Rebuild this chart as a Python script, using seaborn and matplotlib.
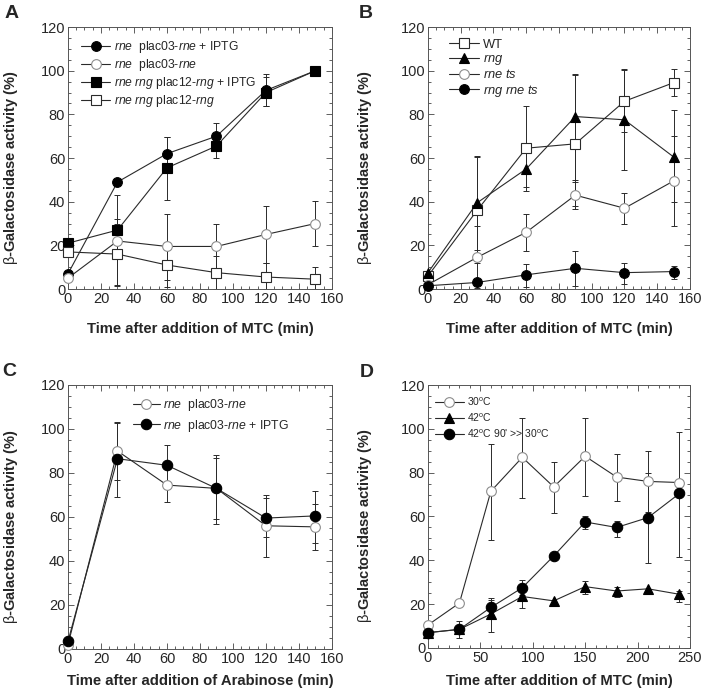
import numpy as np
import matplotlib
matplotlib.use("Agg")
import matplotlib.pyplot as plt
from matplotlib.ticker import MultipleLocator
import seaborn as sns

nan = np.nan

# Panel A
A_time = [0, 30, 60, 90, 120, 150]
A_rne_iptg = [7, 49, 62, 70, 91, 100]
A_rne_iptg_lo = [nan, nan, 55, 65, 84, nan]
A_rne_iptg_hi = [nan, nan, 69.5, 76, 98.5, nan]
A_rne = [5, 22, 19.5, 19.5, 25, 30]
A_rne_lo = [nan, 2, 4, 9, 12, 19.5]
A_rne_hi = [nan, 43, 34.5, 30, 38, 40.5]
A_rng_iptg = [21, 27, 55.5, 65.5, 90, 100]
A_rng_iptg_lo = [nan, 22, 41, 60, 84, nan]
A_rng_iptg_hi = [nan, 32, 69.5, 70, 97, nan]
A_rng = [17, 16, 11, 7.5, 5.5, 4.5]
A_rng_lo = [nan, 1.5, 1, 0, 0, 0]
A_rng_hi = [nan, 30, 19, 15, 12, 10]

# Panel B
B_time = [0, 30, 60, 90, 120, 150]
B_wt = [6, 36, 64.5, 66.5, 86, 94.5]
B_wt_lo = [nan, 12, 45, 36.5, 72, 88.3]
B_wt_hi = [nan, 60.4, 84, 98.7, 101, 101]
B_rng = [7.5, 39.5, 55, 79, 77.5, 60.5]
B_rng_lo = [nan, 18, 46.9, 50, 54.3, 39.7]
B_rng_hi = [nan, 61, 63, 98, 100.5, 81.8]
B_rnets = [2, 14.5, 26, 43, 37, 49.5]
B_rnets_lo = [nan, 0.6, 17.5, 38, 30, 29]
B_rnets_hi = [nan, 29, 34.5, 49, 43.8, 70]
B_rngrne = [1.5, 3, 6.5, 9.5, 7.5, 8]
B_rngrne_lo = [nan, nan, 1, 1.4, 2.3, 4.6]
B_rngrne_hi = [nan, nan, 11.5, 17.5, 12.1, 10.6]

# Panel C
C_time = [0, 30, 60, 90, 120, 150]
C_rne = [2, 90, 74.5, 73, 56, 55.5]
C_rne_lo = [nan, 77, 67, 57, 42, 45]
C_rne_hi = [nan, 103, 82, 87, 70, 66]
C_rne_iptg = [3.5, 86.5, 83.5, 73, 59.5, 60.5]
C_rne_iptg_lo = [nan, 69, 74, 59, 51, 48]
C_rne_iptg_hi = [nan, 102.5, 92.6, 88, 68.5, 72]

# Panel D
D_time = [0, 30, 60, 90, 120, 150, 180, 210, 240]
D_30 = [10.5, 20.5, 71.5, 87, 73.5, 87.5, 78, 76, 75.5]
D_30_lo = [nan, nan, 49.3, 68.3, 61.4, 69.5, 67.2, 62, nan]
D_30_hi = [nan, nan, 93.1, 104.8, 85, 104.8, 88.4, 90, nan]
D_42 = [7, 8.5, 15.5, 23.5, 21.5, 28, 26, 27, 24.5]
D_42_lo = [nan, nan, 7.4, 18.1, nan, 24.6, 23.1, nan, 21.1]
D_42_hi = [nan, nan, 22, 28, nan, 30.7, 27.7, nan, 26.1]
D_shift = [7, 8.5, 18.5, 27.5, 42, 57.5, 55, 59.5, 70.5]
D_shift_lo = [nan, 4.4, 14, 24, nan, 54.2, 50.8, 39, 41.4]
D_shift_hi = [nan, 12.5, 22.7, 31, nan, 60.2, 58.1, 80, 98.4]

sns.set_style("ticks")
plt.rcParams['font.family'] = ['Liberation Sans', 'DejaVu Sans']
plt.rcParams['mathtext.fontset'] = 'custom'
plt.rcParams['mathtext.rm'] = 'Liberation Sans'
plt.rcParams['mathtext.it'] = 'Liberation Sans:italic'
plt.rcParams['mathtext.bf'] = 'Liberation Sans:bold'

LINE = '#2a2a2a'
GREY = '#8c8c8c'


def draw_series(ax, x, y, lo, hi, marker, face, edge, size, label):
    """ Draws one series with its error bars. """
    x = np.array(x, dtype=float)
    y = np.array(y, dtype=float)
    lo = np.array(lo, dtype=float)
    hi = np.array(hi, dtype=float)
    ok = ~np.isnan(lo)
    ax.errorbar(x[ok], y[ok], yerr=[y[ok] - lo[ok], hi[ok] - y[ok]],
                fmt='none', ecolor=LINE, elinewidth=0.7, capsize=2,
                capthick=0.7, zorder=1)
    sns.lineplot(x=x, y=y, ax=ax, color=LINE, linewidth=0.8,
                 marker=marker, markersize=size, markerfacecolor=face,
                 markeredgecolor=edge, markeredgewidth=0.8,
                 label=label, clip_on=False, zorder=3)


def style_axes(ax, xmax, xmajor, xminor, xlabel, xlab_y, ylab_x):
    """ Frame, ticks and labels of one panel. """
    ax.set_xlim(0, xmax)
    ax.set_ylim(0, 120)
    ax.xaxis.set_major_locator(MultipleLocator(xmajor))
    ax.xaxis.set_minor_locator(MultipleLocator(xminor))
    ax.yaxis.set_major_locator(MultipleLocator(20))
    ax.yaxis.set_minor_locator(MultipleLocator(5))
    ax.tick_params(which='both', direction='in', top=True, right=True,
                   color='#444444', width=0.6, labelsize=10.5, pad=2)
    ax.tick_params(which='major', length=4)
    ax.tick_params(which='minor', length=2)
    for sp in ax.spines.values():
        sp.set_visible(True)
        sp.set_color('#555555')
        sp.set_linewidth(0.7)
    ax.set_xlabel(xlabel, fontsize=10.7, fontweight='bold')
    ax.set_ylabel(r"$\mathrm{\beta}$-Galactosidase activity (%)",
                  fontsize=10.5, fontweight='bold')
    ax.xaxis.set_label_coords(0.5, xlab_y)
    ax.yaxis.set_label_coords(ylab_x, 0.465)


fig = plt.figure(figsize=(7.06, 7.00), dpi=100)
axA = fig.add_axes([0.0963, 0.5871, 0.3739, 0.3743])
axB = fig.add_axes([0.6062, 0.5871, 0.3711, 0.3743])
axC = fig.add_axes([0.0963, 0.0729, 0.3739, 0.3771])
axD = fig.add_axes([0.6062, 0.0743, 0.3711, 0.3757])

# A
draw_series(axA, A_time, A_rne_iptg, A_rne_iptg_lo, A_rne_iptg_hi,
            'o', 'black', 'black', 7,
            r"$\it{rne}$  plac03-$\it{rne}$ + IPTG")
draw_series(axA, A_time, A_rne, A_rne_lo, A_rne_hi,
            'o', 'white', GREY, 7, r"$\it{rne}$  plac03-$\it{rne}$")
draw_series(axA, A_time, A_rng_iptg, A_rng_iptg_lo, A_rng_iptg_hi,
            's', 'black', 'black', 6.5,
            r"$\it{rne\ rng}$ plac12-$\it{rng}$ + IPTG")
draw_series(axA, A_time, A_rng, A_rng_lo, A_rng_hi,
            's', 'white', LINE, 6.5, r"$\it{rne\ rng}$ plac12-$\it{rng}$")
style_axes(axA, 160, 20, 5, "Time after addition of MTC (min)",
           -0.125, -0.18)
axA.legend(loc='upper left', bbox_to_anchor=(0.05, 0.955), frameon=False,
           fontsize=8.7, handlelength=2.4, handletextpad=0.3,
           labelspacing=0.18, borderpad=0, borderaxespad=0)

# B
draw_series(axB, B_time, B_wt, B_wt_lo, B_wt_hi,
            's', 'white', LINE, 6.5, "WT")
draw_series(axB, B_time, B_rng, B_rng_lo, B_rng_hi,
            '^', 'black', 'black', 7, r"$\it{rng}$")
draw_series(axB, B_time, B_rnets, B_rnets_lo, B_rnets_hi,
            'o', 'white', GREY, 7, r"$\it{rne\ ts}$")
draw_series(axB, B_time, B_rngrne, B_rngrne_lo, B_rngrne_hi,
            'o', 'black', 'black', 7, r"$\it{rng\ rne\ ts}$")
style_axes(axB, 160, 20, 5, "Time after addition of MTC (min)",
           -0.125, -0.205)
axB.legend(loc='upper left', bbox_to_anchor=(0.08, 0.955), frameon=False,
           fontsize=9.3, handlelength=2.3, handletextpad=0.3,
           labelspacing=0.1, borderpad=0, borderaxespad=0)

# C
draw_series(axC, C_time, C_rne, C_rne_lo, C_rne_hi,
            'o', 'white', GREY, 7, r"$\it{rne}$  plac03-$\it{rne}$")
draw_series(axC, C_time, C_rne_iptg, C_rne_iptg_lo, C_rne_iptg_hi,
            'o', 'black', 'black', 7.5,
            r"$\it{rne}$  plac03-$\it{rne}$ + IPTG")
style_axes(axC, 160, 20, 5, "Time after addition of Arabinose (min)",
           -0.094, -0.18)
axC.legend(loc='upper left', bbox_to_anchor=(0.245, 0.955), frameon=False,
           fontsize=8.8, handlelength=2.2, handletextpad=0.3,
           labelspacing=0.4, borderpad=0, borderaxespad=0)

# D
draw_series(axD, D_time, D_30, D_30_lo, D_30_hi,
            'o', 'white', GREY, 7, r"30$^{\rm o}$C")
draw_series(axD, D_time, D_42, D_42_lo, D_42_hi,
            '^', 'black', 'black', 7, r"42$^{\rm o}$C")
draw_series(axD, D_time, D_shift, D_shift_lo, D_shift_hi,
            'o', 'black', 'black', 7.5,
            r"42$^{\rm o}$C 90' >> 30$^{\rm o}$C")
style_axes(axD, 250, 50, 10, "Time after addition of MTC (min)",
           -0.097, -0.205)
axD.legend(loc='upper left', bbox_to_anchor=(0.025, 0.96), frameon=False,
           fontsize=7.5, handlelength=2.8, handletextpad=0.3,
           labelspacing=0.35, borderpad=0, borderaxespad=0)

# Panel letters
for letter, (px, py) in zip("ABCD", [(12, 14), (366, 14), (9, 371), (367, 372)]):
    fig.text(px / 706, 1 - py / 700, letter, fontsize=14, fontweight='bold',
             ha='center', va='center')

fig.savefig("out.png", dpi=100)
